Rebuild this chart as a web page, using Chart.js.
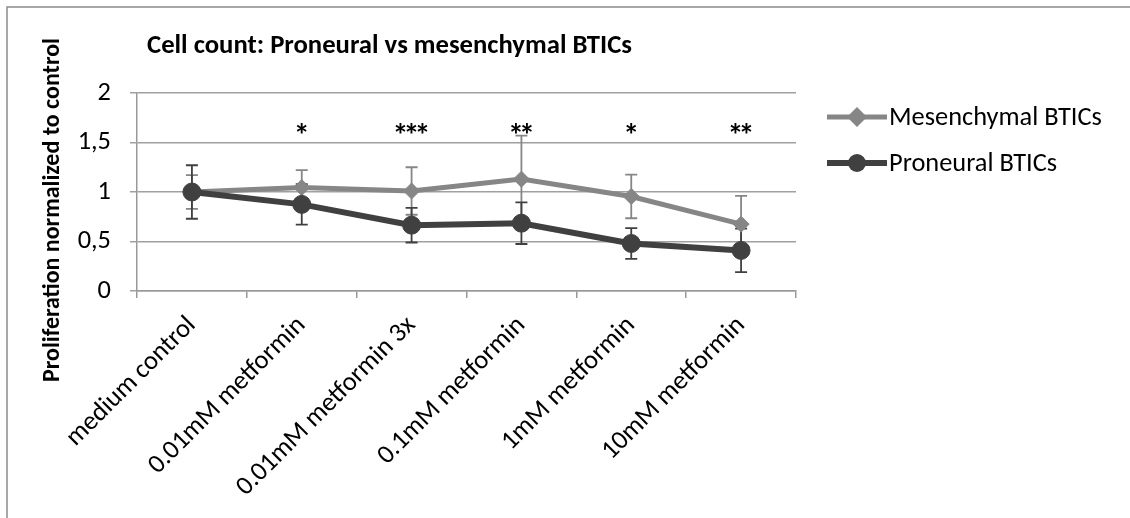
<!DOCTYPE html>
<html>
<head>
<meta charset="utf-8">
<script src="https://cdn.jsdelivr.net/npm/chart.js@4.4.1/dist/chart.umd.min.js"></script>
<style>
  body { margin: 0; background: #fff; }
  #wrap { width: 1130px; height: 518px; }
</style>
</head>
<body>
<div id="wrap"><canvas id="grafico" width="1130" height="518"></canvas></div>
<script>
// dados
var categorias = ['medium control', '0.01mM metformin', '0.01mM metformin 3x', '0.1mM metformin', '1mM metformin', '10mM metformin'];
var mesenquimal = [1.00, 1.045, 1.01, 1.13, 0.955, 0.675];
var mesenquimalErro = [0.17, 0.175, 0.24, 0.44, 0.22, 0.285];
var proneural = [1.00, 0.875, 0.665, 0.685, 0.48, 0.41];
var proneuralErro = [0.27, 0.205, 0.175, 0.21, 0.155, 0.22];
var significancia = ['', '*', '***', '**', '*', '**'];
var nomes = ['Mesenchymal BTICs', 'Proneural BTICs'];
var titulo = 'Cell count: Proneural vs mesenchymal BTICs';
var tituloY = 'Proliferation normalized to control';

var CINZA = '#868686';
var ESCURO = '#404040';
var FONTE = "Carlito, Lato, 'DejaVu Sans', sans-serif";

// acha o tamanho da fonte para o texto ocupar a largura desejada
function ajustarFonte(texto, peso, largura) {
    var c = document.createElement('canvas').getContext('2d');
    c.font = peso + ' 100px ' + FONTE;
    return 100 * largura / c.measureText(texto).width;
}
var tamTexto = ajustarFonte(nomes[0], 'normal', 213);
var tamTitulo = ajustarFonte(titulo, 'bold', 485);
var tamTituloY = ajustarFonte(tituloY, 'bold', 344);
var tamAsterisco = 32;

function marcador(ctx, tipo, x, y, r, cor) {
    ctx.save();
    ctx.fillStyle = cor;
    ctx.beginPath();
    if (tipo == 'rectRot') {
        ctx.moveTo(x - r, y); ctx.lineTo(x, y - r); ctx.lineTo(x + r, y); ctx.lineTo(x, y + r);
        ctx.closePath();
    } else {
        ctx.arc(x, y, r, 0, Math.PI * 2);
    }
    ctx.fill();
    ctx.restore();
}

var barrasErro = {
    id: 'barrasErro',
    beforeDatasetsDraw: function(chart) {
        var ctx = chart.ctx;
        var escala = chart.scales.y;
        [[0, mesenquimalErro, CINZA], [1, proneuralErro, ESCURO]].forEach(function(s) {
            var valores = chart.data.datasets[s[0]].data;
            chart.getDatasetMeta(s[0]).data.forEach(function(pt, i) {
                var topo = escala.getPixelForValue(valores[i] + s[1][i]);
                var base = escala.getPixelForValue(valores[i] - s[1][i]);
                ctx.save();
                ctx.strokeStyle = s[2];
                ctx.lineWidth = 1.8;
                ctx.beginPath();
                ctx.moveTo(pt.x, topo); ctx.lineTo(pt.x, base);
                ctx.moveTo(pt.x - 6, topo); ctx.lineTo(pt.x + 6, topo);
                ctx.moveTo(pt.x - 6, base); ctx.lineTo(pt.x + 6, base);
                ctx.stroke();
                ctx.restore();
            });
        });
    }
};

var enfeites = {
    id: 'enfeites',
    beforeDraw: function(chart) {
        var ctx = chart.ctx;
        ctx.save();
        ctx.strokeStyle = '#8c8c8c';
        ctx.lineWidth = 1.5;
        ctx.strokeRect(7, 7, 1200, 600);
        ctx.restore();
    },
    afterDraw: function(chart) {
        var ctx = chart.ctx;
        var x = chart.scales.x, y = chart.scales.y;
        ctx.save();
        // titulo
        ctx.fillStyle = '#000';
        ctx.font = 'bold ' + tamTitulo + 'px ' + FONTE;
        ctx.textAlign = 'left';
        ctx.textBaseline = 'alphabetic';
        ctx.fillText(titulo, 147, 53);
        // titulo do eixo y
        ctx.save();
        ctx.translate(53, 210);
        ctx.rotate(-Math.PI / 2);
        ctx.font = 'bold ' + tamTituloY + 'px ' + FONTE;
        ctx.textAlign = 'center';
        ctx.textBaseline = 'middle';
        ctx.fillText(tituloY, 0, 0);
        ctx.restore();
        // asteriscos, um a um para ficarem juntos
        ctx.font = 'bold ' + tamAsterisco + 'px ' + FONTE;
        ctx.textAlign = 'center';
        ctx.textBaseline = 'alphabetic';
        significancia.forEach(function(s, i) {
            var cx = x.getPixelForValue(i);
            var base = y.getPixelForValue(1.63) + tamAsterisco * 0.5;
            for (var k = 0; k < s.length; k++) {
                ctx.fillText('*', cx + (k - (s.length - 1) / 2) * 11, base);
            }
        });
        // legenda
        ctx.font = tamTexto + 'px ' + FONTE;
        var itens = [[117, CINZA, 'rectRot', 10, 5], [163, ESCURO, 'circle', 9, 6]];
        itens.forEach(function(it, i) {
            ctx.strokeStyle = it[1];
            ctx.lineWidth = it[4];
            ctx.beginPath();
            ctx.moveTo(827, it[0]); ctx.lineTo(887, it[0]);
            ctx.stroke();
            marcador(ctx, it[2], 857, it[0], it[3], it[1]);
            ctx.fillStyle = '#000';
            ctx.textAlign = 'left';
            ctx.textBaseline = 'middle';
            ctx.fillText(nomes[i], 889, it[0] + 1);
        });
        ctx.restore();
    }
};

var grafico = document.querySelector('#grafico');
new Chart(grafico, {
    type: 'line',
    data: {
        labels: categorias,
        datasets: [{
            label: nomes[0],
            data: mesenquimal,
            borderColor: CINZA,
            backgroundColor: CINZA,
            borderWidth: 5,
            pointStyle: 'rectRot',
            pointRadius: 8,
            pointBorderWidth: 1,
            tension: 0,
            order: 2
        }, {
            label: nomes[1],
            data: proneural,
            borderColor: ESCURO,
            backgroundColor: ESCURO,
            borderWidth: 6,
            pointStyle: 'circle',
            pointRadius: 9,
            pointBorderWidth: 1,
            tension: 0,
            order: 1
        }]
    },
    options: {
        responsive: false,
        animation: false,
        layout: { padding: { top: 93, right: 334, left: 0, bottom: 0 } },
        plugins: {
            legend: { display: false },
            tooltip: { enabled: false },
            title: { display: false }
        },
        scales: {
            x: {
                offset: true,
                afterFit: function(s) { s.height = 227; },
                grid: { drawOnChartArea: false, offset: true, tickLength: 7, color: '#999', lineWidth: 1.5 },
                border: { color: '#999', width: 1.5 },
                ticks: {
                    autoSkip: false,
                    minRotation: 45,
                    maxRotation: 45,
                    padding: 12,
                    color: '#000',
                    font: { family: FONTE, size: tamTexto }
                }
            },
            y: {
                min: 0,
                max: 2,
                afterFit: function(s) { s.width = 137; },
                grid: { color: '#a0a0a0', lineWidth: 1.5, tickLength: 7 },
                border: { color: '#999', width: 1.5 },
                ticks: {
                    stepSize: 0.5,
                    padding: 19,
                    color: '#000',
                    font: { family: FONTE, size: tamTexto },
                    callback: function(v) { return String(v).replace('.', ','); }
                }
            }
        }
    },
    plugins: [barrasErro, enfeites]
});
</script>
</body>
</html>
